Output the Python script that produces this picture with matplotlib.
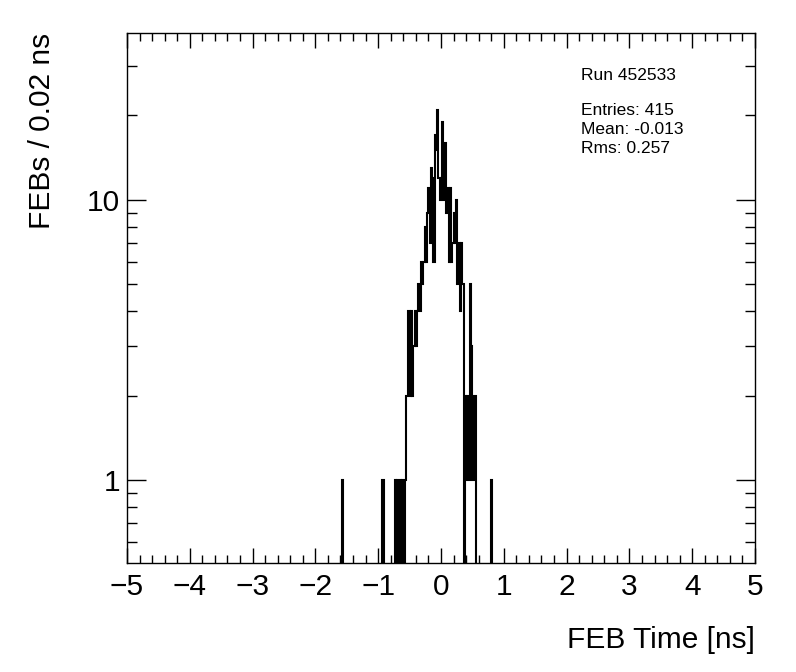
import numpy as np
import matplotlib
matplotlib.use('Agg')
import matplotlib.pyplot as plt
from matplotlib.ticker import FixedLocator, NullFormatter, LogLocator, MultipleLocator

plt.rcParams['font.family'] = ['Liberation Sans', 'DejaVu Sans']

# histogramme FEB time : 500 bins de 0.02 ns entre -5 et 5
x_min, x_max, n_bins = -5.0, 5.0, 500

# bins non vides (indice du bin, contenu)
filled_bins = [171, 203, 204,
               213, 215, 217, 219, 221,
               222, 223, 224, 225, 226, 227, 228, 229, 230, 231, 232, 233,
               234, 235, 236, 237, 238, 239, 240, 241, 242, 243, 244,
               245, 246, 247, 248, 249, 250, 251, 252, 253, 254,
               255, 256, 257, 258, 259, 260, 261, 262, 263, 264, 265, 266, 267,
               269, 270, 271, 272, 273, 274, 275, 276, 277,
               290]
filled_counts = [1, 1, 1,
                 1, 1, 1, 1, 1,
                 2, 2, 4, 2, 4, 2, 3, 4, 3, 4, 5, 4,
                 6, 5, 6, 8, 6, 9, 11, 7, 13, 12, 6,
                 17, 15, 21, 12, 10, 12, 19, 10, 16, 9,
                 11, 6, 11, 6, 7, 9, 7, 10, 5, 7, 4, 7, 5,
                 2, 1, 2, 1, 5, 3, 1, 2, 2,
                 1]

run_text = "Run 452533"
stats_text = ["Entries: 415", "Mean: -0.013", "Rms: 0.257"]

edges = np.linspace(x_min, x_max, n_bins + 1)
counts = np.zeros(n_bins)
counts[filled_bins] = filled_counts
counts_plot = np.where(counts > 0, counts, 1e-3)  # bins vides -> bas du cadre

fig = plt.figure(figsize=(7.96, 6.72), dpi=100)
ax = fig.add_axes([0.1595, 0.1622, 0.789, 0.7887])

ax.stairs(counts_plot, edges, baseline=None, color='black', linewidth=1.5)

ax.set_yscale('log')
ax.set_xlim(x_min, x_max)
ax.set_ylim(0.505, 39.4)

ax.xaxis.set_major_locator(MultipleLocator(1))
ax.xaxis.set_minor_locator(MultipleLocator(0.2))
ax.yaxis.set_major_locator(FixedLocator([1, 10]))
ax.yaxis.set_minor_locator(LogLocator(base=10, subs=np.arange(2, 10)))
ax.yaxis.set_minor_formatter(NullFormatter())
ax.set_yticklabels(['1', '10'])

ax.tick_params(which='both', direction='in', top=True, right=True, labelsize=21.5, width=1)
ax.tick_params(axis='x', which='major', length=11, pad=7)
ax.tick_params(axis='x', which='minor', length=5.5)
ax.tick_params(axis='y', which='major', length=14, pad=5)
ax.tick_params(axis='y', which='minor', length=7)
for s in ax.spines.values():
    s.set_linewidth(1)

ax.set_xlabel('FEB Time [ns]', fontsize=21.5, loc='right', labelpad=18)
ax.set_ylabel('FEBs / 0.02 ns', fontsize=21.5, loc='top', labelpad=22)

ax.text(0.723, 0.92, run_text, transform=ax.transAxes, fontsize=12.5, va='center')
for i, t in enumerate(stats_text):
    ax.text(0.723, 0.854 - i * 0.036, t, transform=ax.transAxes, fontsize=12.5, va='center')

fig.savefig('out.png', dpi=100)
